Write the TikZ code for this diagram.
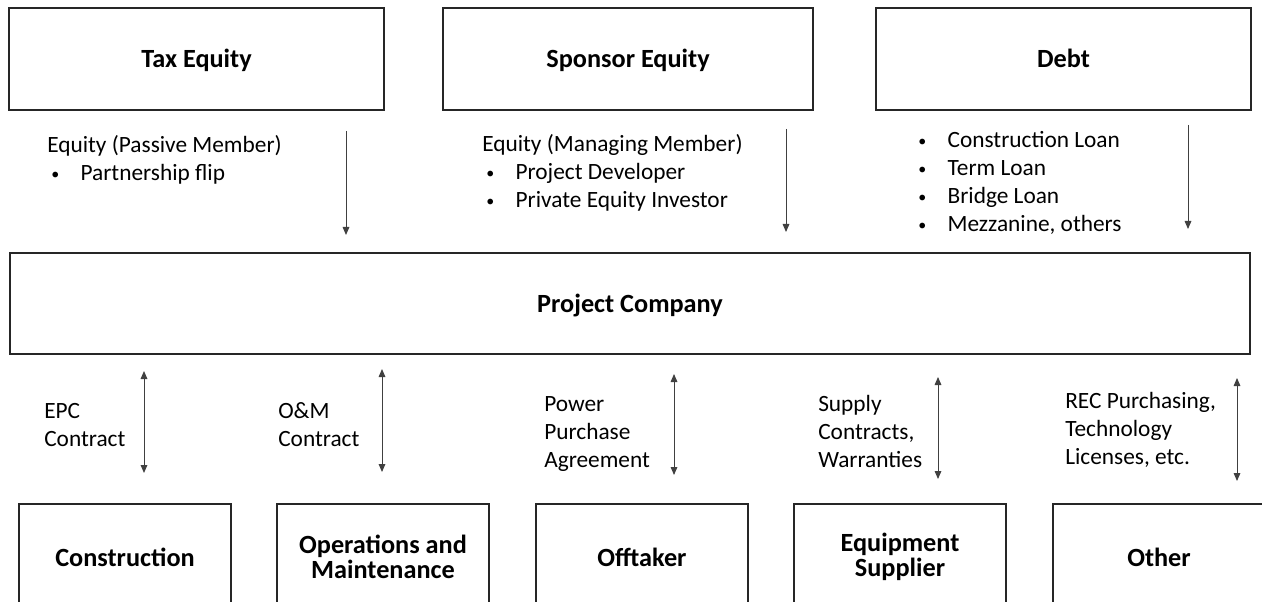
\documentclass[tikz,border=0pt]{standalone}
\usepackage{fontspec}
\setmainfont{Carlito}
\usetikzlibrary{arrows.meta}
\newcommand\bul{\makebox[25pt][l]{\hspace{3pt}\raisebox{1pt}{\fontsize{12pt}{12pt}\selectfont•}}}
\begin{document}
\begin{tikzpicture}[x=0.75pt,y=-0.75pt,
  box/.style={draw=black!85, line width=1.1pt, inner sep=0pt, align=center,
    font=\fontsize{19.7pt}{19pt}\selectfont\bfseries},
  single/.style={text height=13.5pt, text depth=0pt},
  topbox/.style={box, single, minimum width=281.25pt, minimum height=76.5pt},
  botbox/.style={box, minimum width=159pt, minimum height=79.5pt},
  lbl/.style={anchor=west, inner sep=0pt, align=left,
    font=\fontsize{17.5pt}{21pt}\selectfont},
  tip/.tip={Triangle[length=6pt,width=5pt]},
  conn/.style={draw=black!75, line width=0.75pt, -tip},
  both/.style={draw=black!75, line width=0.75pt, tip-tip}]
\useasboundingbox (0,0) rectangle (1262,602);
\clip (0,0) rectangle (1262,602);
% top boxes
\node[topbox] (tax) at (196.5,59) {Tax Equity};
\node[topbox, minimum width=277.5pt] (spon) at (628,59) {Sponsor Equity};
\node[topbox] (debt) at (1063.5,59) {Debt};
% project company
\node[box, single, minimum width=930pt, minimum height=75.75pt] (proj) at (630,303.5) {Project Company};
% bottom boxes
\node[botbox, single] (cons) at (125,557) {Construction};
\node[botbox] (om) at (383,557) {Operations and\\Maintenance};
\node[botbox, single] (off) at (642,557) {Offtaker};
\node[botbox] (equip) at (900,557) {Equipment\\Supplier};
\node[botbox, single] (other) at (1159,557) {Other};
% top labels
\node[lbl] (taxl) at (47,160) {Equity (Passive Member)\\\bul Partnership flip};
\node[lbl] (sponl) at (482,173) {Equity (Managing Member)\\\bul Project Developer\\\bul Private Equity Investor};
\node[lbl] (debtl) at (914,183) {\bul Construction Loan\\\bul Term Loan\\\bul Bridge Loan\\\bul Mezzanine, others};
% bottom labels
\node[lbl] (epcl) at (44,425) {EPC\\Contract};
\node[lbl] (oml) at (278,425) {O\&M\\Contract};
\node[lbl] (ppal) at (544,434) {Power\\Purchase\\Agreement};
\node[lbl] (supl) at (818,431) {Supply\\Contracts,\\Warranties};
\node[lbl] (recl) at (1065,429.5) {REC Purchasing,\\Technology\\Licenses, etc.};
% arrow end coordinates
\coordinate (ta1) at (346,131); \coordinate (ta2) at (346,235);
\coordinate (sa1) at (786,129); \coordinate (sa2) at (786,232);
\coordinate (da1) at (1188,125); \coordinate (da2) at (1188,229);
\coordinate (e1) at (144,371); \coordinate (e2) at (144,473);
\coordinate (o1) at (382,369); \coordinate (o2) at (382,472);
\coordinate (p1) at (674,374); \coordinate (p2) at (674,475);
\coordinate (s1) at (938,377); \coordinate (s2) at (938,479);
\coordinate (r1) at (1237,378); \coordinate (r2) at (1237,481);
\draw[conn] (ta1) -- (ta2);
\draw[conn] (sa1) -- (sa2);
\draw[conn] (da1) -- (da2);
\draw[both] (e1) -- (e2);
\draw[both] (o1) -- (o2);
\draw[both] (p1) -- (p2);
\draw[both] (s1) -- (s2);
\draw[both] (r1) -- (r2);
\end{tikzpicture}
\end{document}
